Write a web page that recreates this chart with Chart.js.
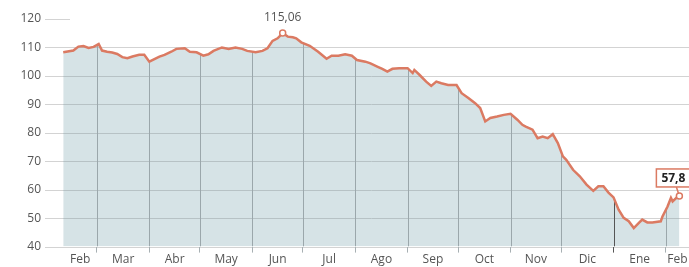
<!DOCTYPE html>
<html>
<head>
<meta charset="utf-8">
<script src="https://cdn.jsdelivr.net/npm/chart.js@4"></script>
<style>
  html, body { margin: 0; padding: 0; background: #fff; }
  #wrap { width: 689px; height: 267px; }
</style>
</head>
<body>
<div id="wrap"><canvas id="chart" width="689" height="267"></canvas></div>
<script>
// day number counted from Jan 1 of the first year (Feb 1 = 31, Jan 1 next year = 365)
const days = [39, 45, 48, 51, 54, 57, 60, 62, 65, 68, 71, 74, 77, 80, 84, 87, 90, 93, 96, 99,
    103, 106, 111, 114, 118, 122, 125, 128, 133, 137, 141, 145, 148, 153, 157, 160, 163, 166, 169, 172,
    175, 177, 180, 185, 190, 195, 198, 202, 206, 210, 213, 218, 221, 225, 228, 231, 234, 238, 243, 246,
    247, 250, 254, 257, 260, 263, 267, 272, 275, 279, 283, 286, 289, 292, 296, 300, 304, 308, 311, 313,
    317, 320, 323, 326, 329, 332, 335, 337, 341, 345, 349, 353, 356, 359, 362, 365, 368, 371, 374, 377,
    380, 382, 385, 388, 393, 394, 397, 399, 400, 403, 404];
const prices = [108.3, 108.9, 110.3, 110.5, 109.8, 110.2, 111.2, 108.9, 108.5, 108.2, 107.7, 106.6, 106.2, 106.8, 107.4, 107.4, 105.0, 105.9, 106.8, 107.4,
    108.5, 109.5, 109.7, 108.5, 108.3, 107.1, 107.6, 108.8, 110.0, 109.5, 110.0, 109.5, 108.8, 108.3, 108.8, 109.7, 112.3, 113.2, 115.06, 113.8,
    113.6, 113.2, 111.8, 110.6, 108.5, 106.0, 107.1, 107.1, 107.6, 107.1, 105.6, 105.0, 104.4, 103.3, 102.5, 101.5, 102.5, 102.7, 102.7, 101.0,
    102.1, 100.4, 98.0, 96.5, 98.0, 97.4, 96.8, 96.8, 93.9, 92.2, 90.4, 88.7, 84.0, 85.2, 85.7, 86.3, 86.7, 84.6, 82.8, 82.2,
    81.1, 78.1, 78.7, 78.1, 79.5, 76.4, 71.7, 70.5, 67.0, 64.7, 61.8, 59.6, 61.2, 61.2, 59.0, 57.3, 53.0, 50.1, 48.9, 46.5,
    48.3, 49.5, 48.5, 48.5, 48.9, 50.6, 54.1, 57.1, 55.9, 57.6, 57.8];

const monthStarts = [59, 90, 120, 151, 181, 212, 243, 273, 304, 334, 365, 396];
const monthLabels = ['Feb', 'Mar', 'Abr', 'May', 'Jun', 'Jul', 'Ago', 'Sep', 'Oct', 'Nov', 'Dic', 'Ene', 'Feb'];
const yearStart = 365;
const yTicks = [40, 50, 60, 70, 80, 90, 100, 110, 120];

const LINE = '#db7a62';
const FILL = '#d6e3e6';
const FONT = '"Open Sans", "DejaVu Sans", sans-serif';

const xMin = 28.2, xMax = 409.7;

// month labels sit in the middle of each month segment (first one starts at the data)
const bounds = [days[0], ...monthStarts, xMax];
const labelDays = monthLabels.map((_, i) => (bounds[i] + bounds[i + 1]) / 2);

const iMax = prices.indexOf(Math.max(...prices));
const iLast = prices.length - 1;
const fmt = (v, dec) => v.toFixed(dec).replace('.', ',');

function hLine(ctx, x0, x1, y, color) {
    ctx.strokeStyle = color;
    ctx.beginPath();
    ctx.moveTo(x0, y);
    ctx.lineTo(x1, y);
    ctx.stroke();
}

const gridPlugin = {
    id: 'gridPlugin',
    beforeDraw(chart) {
        // plain horizontal grid, drawn before the fill covers it
        const { ctx, chartArea, scales } = chart;
        ctx.save();
        ctx.lineWidth = 1;
        yTicks.forEach(v => {
            const y = Math.round(scales.y.getPixelForValue(v)) + 0.5;
            const right = v === 120 ? chartArea.left + 25 : chartArea.right;
            hLine(ctx, chartArea.left, right, y, '#d3d3d3');
        });
        ctx.restore();
    },
    beforeDatasetsDraw(chart) {
        // grid lines that only show inside the filled area
        const { ctx, chartArea, scales } = chart;
        const pts = chart.getDatasetMeta(0).data;
        if (!pts.length) return;
        ctx.save();
        ctx.beginPath();
        ctx.moveTo(pts[0].x, chartArea.bottom);
        pts.forEach(p => ctx.lineTo(p.x, p.y));
        ctx.lineTo(pts[pts.length - 1].x, chartArea.bottom);
        ctx.closePath();
        ctx.clip();
        ctx.lineWidth = 1;
        yTicks.forEach(v => {
            const y = Math.round(scales.y.getPixelForValue(v)) + 0.5;
            hLine(ctx, chartArea.left, chartArea.right, y, '#b7c2c5');
        });
        monthStarts.forEach(d => {
            const x = Math.round(scales.x.getPixelForValue(d)) + 0.5;
            ctx.strokeStyle = d === yearStart ? '#555' : '#9ba7ab';
            ctx.beginPath();
            ctx.moveTo(x, chartArea.top);
            ctx.lineTo(x, chartArea.bottom);
            ctx.stroke();
        });
        ctx.restore();
    },
    afterDatasetsDraw(chart) {
        const { ctx } = chart;
        const pts = chart.getDatasetMeta(0).data;
        ctx.save();

        // max value label
        const pm = pts[iMax];
        ctx.font = '12px ' + FONT;
        ctx.fillStyle = '#555';
        ctx.textAlign = 'center';
        ctx.textBaseline = 'alphabetic';
        ctx.fillText(fmt(prices[iMax], 2), pm.x, pm.y - 12);

        // last value callout
        const pl = pts[iLast];
        const bx = pl.x - 23, by = pl.y - 27, bw = 44, bh = 18;
        ctx.strokeStyle = LINE;
        ctx.lineWidth = 1.5;
        ctx.beginPath();
        ctx.moveTo(pl.x - 3, by + bh);
        ctx.lineTo(pl.x - 1, pl.y - 3);
        ctx.stroke();
        ctx.fillStyle = '#fff';
        ctx.fillRect(bx, by, bw, bh);
        ctx.strokeRect(bx, by, bw, bh);
        ctx.fillStyle = '#222';
        ctx.font = 'bold 12px ' + FONT;
        ctx.textAlign = 'left';
        ctx.textBaseline = 'middle';
        ctx.fillText(fmt(prices[iLast], 1), bx + 5, by + bh / 2 + 1);
        ctx.restore();
    }
};

const noSidePadding = s => { s.paddingLeft = 0; s.paddingRight = 0; };

new Chart(document.getElementById('chart'), {
    type: 'line',
    data: {
        datasets: [{
            data: days.map((d, i) => ({ x: d, y: prices[i] })),
            borderColor: LINE,
            borderWidth: 2.5,
            backgroundColor: FILL,
            fill: 'start',
            tension: 0,
            pointRadius: c => (c.dataIndex === iMax || c.dataIndex === iLast) ? 3 : 0,
            pointBackgroundColor: '#fff',
            pointBorderColor: LINE,
            pointBorderWidth: 1.5
        }]
    },
    options: {
        responsive: false,
        animation: false,
        layout: { autoPadding: false, padding: { top: 19, right: 0, bottom: 0, left: 0 } },
        plugins: {
            legend: { display: false },
            tooltip: { enabled: false },
            filler: { drawTime: 'beforeDatasetsDraw' }
        },
        scales: {
            x: {
                type: 'linear',
                position: 'bottom',
                min: xMin,
                max: xMax,
                afterBuildTicks: s => { s.ticks = monthStarts.map(v => ({ value: v })); },
                afterFit: noSidePadding,
                ticks: { display: false },
                grid: {
                    drawOnChartArea: false,
                    drawTicks: true,
                    tickLength: 6,
                    color: c => (c.tick && c.tick.value === yearStart) ? '#555' : '#a7b0b3'
                },
                border: { display: false }
            },
            months: {
                type: 'linear',
                axis: 'x',
                position: 'bottom',
                min: xMin,
                max: xMax,
                afterBuildTicks: s => { s.ticks = labelDays.map(v => ({ value: v })); },
                afterFit: noSidePadding,
                ticks: {
                    autoSkip: false,
                    maxRotation: 0,
                    padding: 0,
                    color: '#555',
                    font: { family: FONT, size: 12 },
                    callback: (v, i) => monthLabels[i]
                },
                grid: { display: false, drawTicks: false },
                border: { display: false }
            },
            y: {
                min: 40,
                max: 120,
                afterBuildTicks: s => { s.ticks = yTicks.map(v => ({ value: v })); },
                afterFit: s => { s.width = 45; },
                ticks: {
                    padding: 4,
                    color: '#555',
                    font: { family: FONT, size: 12 }
                },
                grid: { display: false, drawTicks: false },
                border: { display: false }
            }
        }
    },
    plugins: [gridPlugin]
});
</script>
</body>
</html>
